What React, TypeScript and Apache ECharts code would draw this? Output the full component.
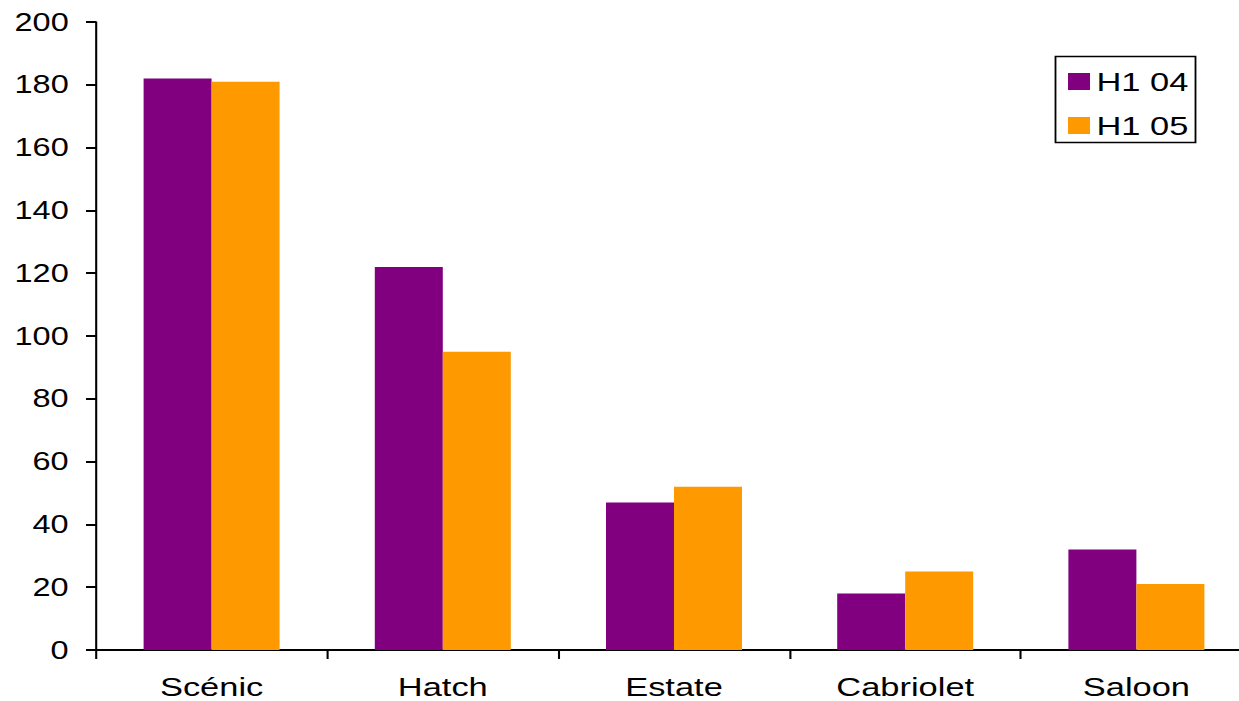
import React, { useEffect, useRef } from "react";
import * as echarts from "echarts";

const categories = ["Scénic", "Hatch", "Estate", "Cabriolet", "Saloon"];
const seriesNames = ["H1 04", "H1 05"];
const h104 = [182, 122, 47, 18, 32];
const h105 = [181, 95, 52, 25, 21];
const colors = ["#800080", "#FF9900"];

// The reference is horizontally stretched; reproduce by drawing at a narrower
// width and stretching the whole chart horizontally.
const SX = 1.3;
const W = 1239;
const H = 701;
const IW = 1280 / SX; // drawing area extends a bit past the visible right edge

export default function App() {
  const ref = useRef<HTMLDivElement>(null);
  useEffect(() => {
    document.body.style.margin = "0";
    const chart = echarts.init(ref.current!, undefined, { renderer: "svg" });
    const font = "'Liberation Sans', Arial, sans-serif";
    chart.setOption({
      animation: false,
      backgroundColor: "#ffffff",
      grid: {
        left: 96 / SX,
        top: 22,
        height: 628,
        width: 1156 / SX,
        containLabel: false,
        outerBoundsMode: "none",
      },
      legend: {
        orient: "vertical",
        left: 1055 / SX + 1,
        top: 57,
        padding: [11, 6, 4, 9],
        itemWidth: 22 / SX,
        itemHeight: 17,
        itemGap: 17,
        itemTextGap: 5,
        itemStyle: { borderWidth: 0 },
        textStyle: { fontFamily: font, fontSize: 26.5, color: "#000" },
        data: seriesNames,
        icon: "rect",
      },
      graphic: [
        {
          type: "rect",
          shape: { x: 1055.5 / SX, y: 56.5, width: 140 / SX, height: 86 },
          style: { fill: "none", stroke: "#000", lineWidth: 1.4 },
          z: 100,
        },
      ],
      xAxis: {
        type: "category",
        data: categories,
        axisLine: { lineStyle: { color: "#000", width: 2 } },
        axisTick: { show: true, length: 9, lineStyle: { color: "#000", width: 1.6 } },
        axisLabel: { fontFamily: font, fontSize: 26.5, color: "#000", margin: 23 },
      },
      yAxis: {
        type: "value",
        min: 0,
        max: 200,
        interval: 20,
        splitLine: { show: false },
        axisLine: { show: true, lineStyle: { color: "#000", width: 1.6 } },
        axisTick: { show: true, length: 10 / SX, lineStyle: { color: "#000", width: 2 } },
        axisLabel: { fontFamily: font, fontSize: 25, color: "#000", margin: 21 },
      },
      series: [
        {
          name: seriesNames[0],
          type: "bar",
          data: h104,
          barWidth: 68 / SX,
          barGap: "0%",
          itemStyle: { color: colors[0] },
        },
        {
          name: seriesNames[1],
          type: "bar",
          data: h105,
          barWidth: 68 / SX,
          barGap: "0%",
          itemStyle: { color: colors[1] },
        },
      ],
    });
    return () => chart.dispose();
  }, []);
  return (
    <div style={{ width: W, height: H, overflow: "hidden", background: "#fff" }}>
      <div
        ref={ref}
        style={{ width: IW, height: H, transform: `scaleX(${SX})`, transformOrigin: "0 0" }}
      />
    </div>
  );
}
